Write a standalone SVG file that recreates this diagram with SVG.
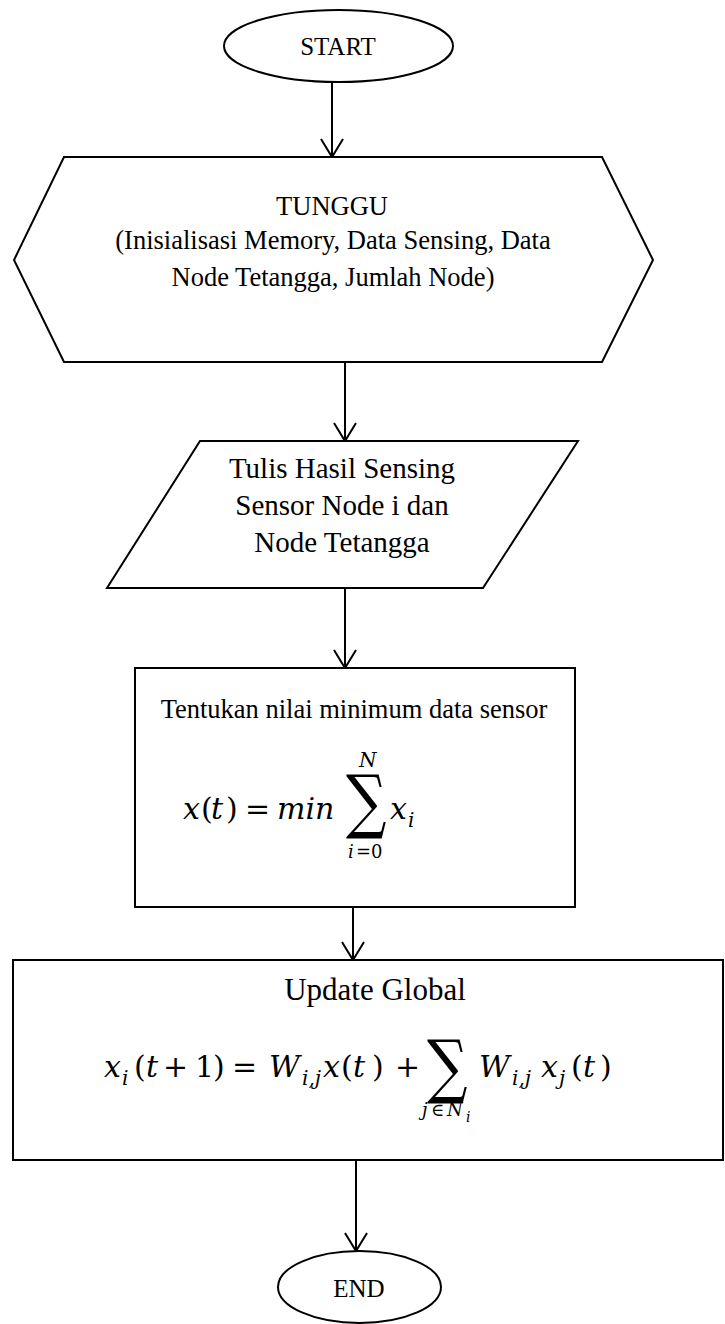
<svg xmlns="http://www.w3.org/2000/svg" width="725" height="1324" viewBox="0 0 725 1324">
<style>
.shape{fill:#fff;stroke:#000;stroke-width:2}
.conn{fill:none;stroke:#000;stroke-width:2}
.t{font-family:"Liberation Serif","Times New Roman",serif;fill:#000;text-anchor:middle}
.m{font-family:"DejaVu Serif",serif;fill:#000;font-style:italic}
.u{font-style:normal}
.big{font-size:30px}
.s{font-size:20px}
.sub{font-size:18px}
.xs{font-size:14px}
.sum{font-family:"DejaVu Serif",serif;font-style:normal;fill:#000;font-size:70px}
</style>
<defs>
<marker id="arr" viewBox="-20 -12 24 24" refX="0" refY="0" markerWidth="24" markerHeight="24" markerUnits="userSpaceOnUse" orient="auto" overflow="visible">
<path d="M-18,-11 L0,0 L-18,11" fill="none" stroke="#000" stroke-width="2"/>
</marker>
</defs>
<g id="connectors">
<line class="conn" x1="332" y1="82" x2="332" y2="157" marker-end="url(#arr)"/>
<line class="conn" x1="345" y1="362" x2="345" y2="441" marker-end="url(#arr)"/>
<line class="conn" x1="345" y1="588" x2="345" y2="668" marker-end="url(#arr)"/>
<line class="conn" x1="353" y1="907" x2="353" y2="960" marker-end="url(#arr)"/>
<line class="conn" x1="356" y1="1160" x2="356" y2="1251" marker-end="url(#arr)"/>
</g>
<g id="start">
<ellipse class="shape" cx="338.5" cy="46" rx="114.5" ry="36"/>
<text class="t" x="338" y="55" font-size="25">START</text>
</g>
<g id="tunggu">
<polygon class="shape" points="64,157 602,157 653,260 602,362 64,362 14,260"/>
<text class="t" x="332" y="215" font-size="26.5">TUNGGU</text>
<text class="t" x="333" y="249" font-size="26.5">(Inisialisasi Memory, Data Sensing, Data</text>
<text class="t" x="333" y="286" font-size="26.5">Node Tetangga, Jumlah Node)</text>
</g>
<g id="tulis">
<polygon class="shape" points="200,441 578,441 483,588 107,588"/>
<text class="t" x="342" y="478" font-size="29">Tulis Hasil Sensing</text>
<text class="t" x="342" y="515" font-size="29">Sensor Node i dan</text>
<text class="t" x="342" y="552" font-size="29">Node Tetangga</text>
</g>
<g id="minimum">
<rect class="shape" x="135" y="668" width="440" height="239"/>
<text class="t" x="354" y="718" font-size="26.5">Tentukan nilai minimum data sensor</text>
<text class="m big" y="819"><tspan x="183">x</tspan><tspan class="u" x="201">(</tspan><tspan x="211">t</tspan><tspan class="u" x="226">)</tspan><tspan class="u" x="245">=</tspan><tspan x="277">min</tspan></text>
<text class="sum" transform="matrix(0.81 0 0 1 346 0)" x="0" y="825">∑</text>
<text class="m big" x="390" y="819">x</text>
<text class="m s" x="408" y="827">i</text>
<text class="m s" x="359" y="767">N</text>
<text class="m sub" y="858"><tspan x="348">i</tspan><tspan class="u" x="356">=0</tspan></text>
</g>
<g id="update">
<rect class="shape" x="13" y="960" width="710" height="200"/>
<text class="t" x="375" y="1000" font-size="31">Update Global</text>
<text class="m big" x="104" y="1077">x</text>
<text class="m s" x="122" y="1085">i</text>
<text class="m big" y="1077"><tspan class="u" x="134">(</tspan><tspan x="146">t</tspan><tspan class="u" x="163">+</tspan><tspan class="u" x="195">1</tspan><tspan class="u" x="213">)</tspan><tspan class="u" x="232">=</tspan><tspan x="269">W</tspan></text>
<text class="m s" x="302" y="1085">i,j</text>
<text class="m big" y="1077"><tspan x="323">x</tspan><tspan class="u" x="341">(</tspan><tspan x="353">t</tspan><tspan class="u" x="372">)</tspan><tspan class="u" x="395">+</tspan></text>
<text class="sum" transform="matrix(0.81 0 0 1 427 0)" x="0" y="1090">∑</text>
<text class="m big" x="479" y="1077">W</text>
<text class="m s" x="512" y="1085">i,j</text>
<text class="m big" x="541" y="1077">x</text>
<text class="m s" x="559" y="1085">j</text>
<text class="m big" y="1077"><tspan class="u" x="571">(</tspan><tspan x="583">t</tspan><tspan class="u" x="600">)</tspan></text>
<text class="m sub" y="1116"><tspan x="422">j</tspan><tspan class="u" x="431">∈</tspan><tspan x="447">N</tspan></text>
<text class="m xs" x="466" y="1122">i</text>
</g>
<g id="end">
<ellipse class="shape" cx="359.5" cy="1287" rx="81.5" ry="36"/>
<text class="t" x="359" y="1297" font-size="25">END</text>
</g>
</svg>
